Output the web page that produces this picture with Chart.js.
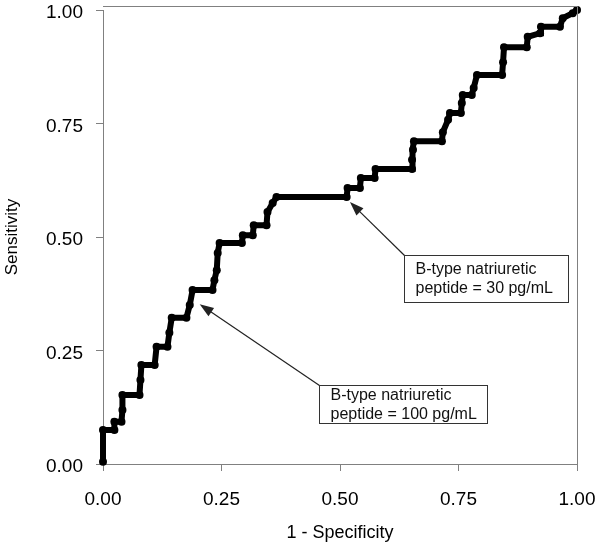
<!DOCTYPE html>
<html>
<head>
<meta charset="utf-8">
<script src="https://cdn.jsdelivr.net/npm/chart.js@4"></script>
<style>
  html, body { margin: 0; padding: 0; background: #fff; }
</style>
</head>
<body>
<canvas id="rocChart" width="600" height="551"></canvas>
<script>
// ROC curve: 1 - specificity vs sensitivity
const oneMinusSpec = [0, 0, 0.024, 0.024, 0.039, 0.041, 0.041, 0.077, 0.079, 0.081,
  0.109, 0.113, 0.136, 0.140, 0.145, 0.176, 0.183, 0.189, 0.231, 0.235,
  0.240, 0.242, 0.246, 0.293, 0.295, 0.316, 0.318, 0.345, 0.347, 0.358,
  0.366, 0.514, 0.516, 0.542, 0.544, 0.573, 0.575, 0.652, 0.652, 0.654,
  0.656, 0.715, 0.717, 0.728, 0.732, 0.755, 0.757, 0.759, 0.778, 0.782,
  0.789, 0.842, 0.844, 0.846, 0.894, 0.896, 0.922, 0.924, 0.964, 0.970,
  0.991, 1.0];
const sensitivity = [0.005, 0.075, 0.075, 0.093, 0.093, 0.119, 0.152, 0.152, 0.185, 0.218,
  0.218, 0.258, 0.258, 0.289, 0.322, 0.322, 0.350, 0.383, 0.383, 0.405,
  0.427, 0.465, 0.487, 0.487, 0.504, 0.504, 0.526, 0.526, 0.555, 0.575,
  0.588, 0.588, 0.608, 0.608, 0.630, 0.630, 0.650, 0.650, 0.670, 0.692,
  0.711, 0.711, 0.731, 0.758, 0.773, 0.773, 0.795, 0.813, 0.813, 0.828,
  0.857, 0.857, 0.885, 0.918, 0.918, 0.941, 0.949, 0.963, 0.963, 0.982,
  0.993, 1.0];
const tickValues = [0, 0.25, 0.5, 0.75, 1];
const note30 = ['B-type natriuretic', 'peptide = 30 pg/mL'];
const note100 = ['B-type natriuretic', 'peptide = 100 pg/mL'];

// callouts: arrow tip and box corner in data units, box size in px
const callouts = [
  { lines: note30, tip: [0.521, 0.577], box: [0.635, 0.460], w: 164, h: 47 },
  { lines: note100, tip: [0.204, 0.352], box: [0.455, 0.174], w: 168, h: 38 }
];

const axisGray = '#808080';
const fontFam = '"Liberation Sans", Arial, sans-serif';

// drop the extra room Chart.js reserves for edge labels, layout padding handles it
function noEdgePadding(s) {
  s.paddingTop = 0; s.paddingBottom = 0; s.paddingLeft = 0; s.paddingRight = 0;
}

const framePlugin = {
  id: 'frame',
  afterDraw(chart) {
    const { ctx, chartArea: a } = chart;
    ctx.save();
    ctx.strokeStyle = axisGray;
    ctx.lineWidth = 1;
    ctx.beginPath();
    ctx.moveTo(a.left, a.top - 3.5);
    ctx.lineTo(a.right + 0.5, a.top - 3.5);
    ctx.lineTo(a.right + 0.5, a.bottom);
    ctx.stroke();
    ctx.restore();
  }
};

const calloutPlugin = {
  id: 'callouts',
  afterDraw(chart) {
    const { ctx } = chart;
    const xs = chart.scales.x, ys = chart.scales.y;
    ctx.save();
    callouts.forEach(c => {
      const tx = xs.getPixelForValue(c.tip[0]);
      const ty = ys.getPixelForValue(c.tip[1]);
      const bx = Math.round(xs.getPixelForValue(c.box[0])) + 0.5;
      const by = Math.round(ys.getPixelForValue(c.box[1])) + 0.5;

      // arrow
      const ang = Math.atan2(ty - by, tx - bx);
      const cs = Math.cos(ang), sn = Math.sin(ang);
      ctx.strokeStyle = '#222';
      ctx.fillStyle = '#222';
      ctx.lineWidth = 1.2;
      ctx.beginPath();
      ctx.moveTo(bx, by);
      ctx.lineTo(tx - 8 * cs, ty - 8 * sn);
      ctx.stroke();
      ctx.beginPath();
      ctx.moveTo(tx, ty);
      ctx.lineTo(tx - 14 * cs + 5 * sn, ty - 14 * sn - 5 * cs);
      ctx.lineTo(tx - 14 * cs - 5 * sn, ty - 14 * sn + 5 * cs);
      ctx.closePath();
      ctx.fill();

      // box
      ctx.fillStyle = '#fff';
      ctx.fillRect(bx, by, c.w, c.h);
      ctx.lineWidth = 1;
      ctx.strokeStyle = '#333';
      ctx.strokeRect(bx, by, c.w, c.h);

      ctx.fillStyle = '#111';
      ctx.font = '16px ' + fontFam;
      ctx.textBaseline = 'middle';
      ctx.textAlign = 'left';
      const mid = by + c.h / 2;
      ctx.fillText(c.lines[0], bx + 11, mid - 9);
      ctx.fillText(c.lines[1], bx + 11, mid + 10);
    });
    ctx.restore();
  }
};

const points = oneMinusSpec.map((x, i) => ({ x: x, y: sensitivity[i] }));

const rocChart = new Chart(document.getElementById('rocChart').getContext('2d'), {
  type: 'scatter',
  data: {
    datasets: [{
      data: points,
      showLine: true,
      borderColor: '#000',
      borderWidth: 6,
      tension: 0,
      pointRadius: 4,
      pointBackgroundColor: '#000',
      pointBorderWidth: 0,
      clip: false
    }]
  },
  options: {
    responsive: false,
    animation: false,
    layout: { padding: { top: 10, right: 23, left: 0, bottom: 0 } },
    plugins: {
      legend: { display: false },
      tooltip: { enabled: false }
    },
    scales: {
      x: {
        type: 'linear',
        min: 0,
        max: 1,
        afterBuildTicks: s => { s.ticks = tickValues.map(v => ({ value: v })); },
        afterFit: s => { s.height = 87; noEdgePadding(s); },
        grid: { drawOnChartArea: false, drawTicks: true, tickLength: 7, color: axisGray },
        border: { color: axisGray, width: 1 },
        ticks: {
          color: '#000',
          padding: 19,
          maxRotation: 0,
          font: { family: fontFam, size: 19, lineHeight: 1 },
          callback: v => v.toFixed(2)
        },
        title: {
          display: true,
          text: '1 - Specificity',
          color: '#000',
          font: { family: fontFam, size: 18, lineHeight: 1.2 },
          padding: { top: 0, bottom: 7 }
        }
      },
      y: {
        type: 'linear',
        min: 0,
        max: 1,
        afterBuildTicks: s => { s.ticks = tickValues.map(v => ({ value: v })); },
        afterFit: s => { s.width = 103; noEdgePadding(s); },
        grid: { drawOnChartArea: false, drawTicks: true, tickLength: 7, color: axisGray },
        border: { color: axisGray, width: 1 },
        ticks: {
          color: '#000',
          padding: 13,
          labelOffset: 3,
          font: { family: fontFam, size: 19, lineHeight: 1 },
          callback: v => v.toFixed(2)
        },
        title: {
          display: true,
          text: 'Sensitivity',
          color: '#000',
          font: { family: fontFam, size: 17, lineHeight: 1.2 },
          padding: { top: 2, bottom: 0 }
        }
      }
    }
  },
  plugins: [framePlugin, calloutPlugin]
});
</script>
</body>
</html>
